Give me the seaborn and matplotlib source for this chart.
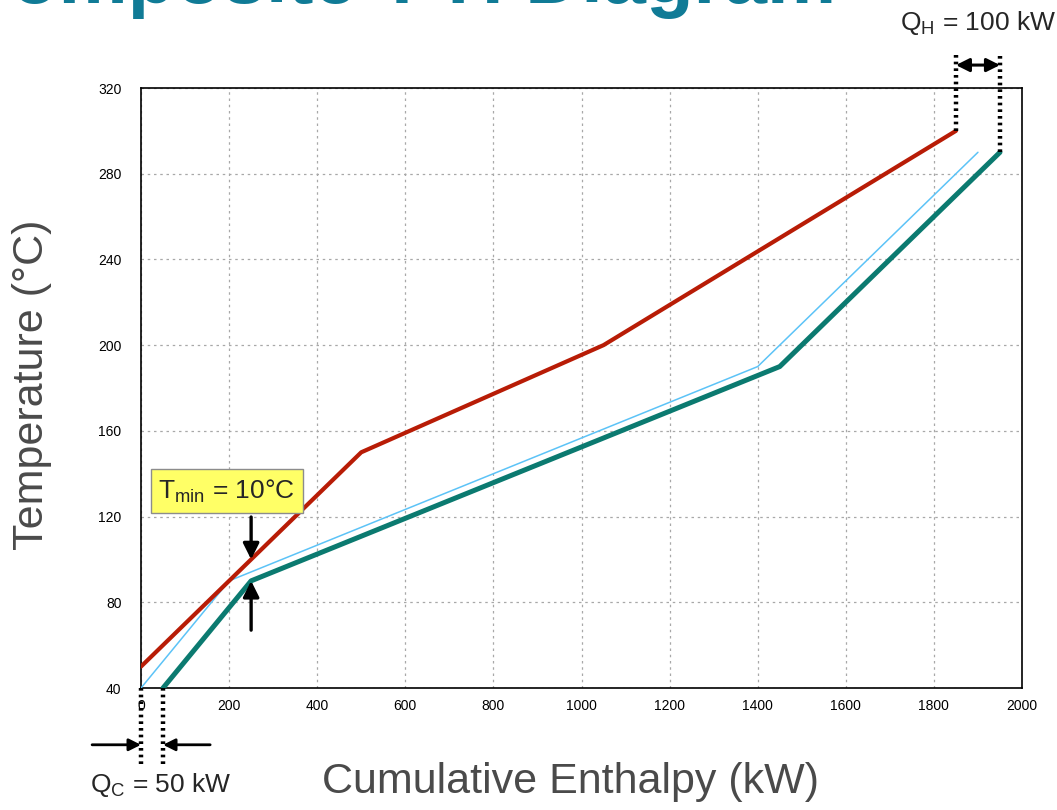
import matplotlib
matplotlib.use("Agg")
import matplotlib.pyplot as plt
import seaborn as sns
import pandas as pd

# Hot and cold composite curves (cumulative enthalpy in kW, temperature in °C)
hot_h = [0, 250, 500, 1050, 1850]
hot_t = [50, 100, 150, 200, 300]
cold_h = [50, 250, 1450, 1950]
cold_t = [40, 90, 190, 290]
shifted_h = [0, 200, 1400, 1900]
shifted_t = [40, 90, 190, 290]

x_ticks = [0, 200, 400, 600, 800, 1000, 1200, 1400, 1600, 1800, 2000]
y_ticks = [40, 80, 120, 160, 200, 240, 280, 320]

q_cold = 50     # kW, cold utility
q_hot = 100     # kW, hot utility
dt_min = 10     # °C, minimum approach
pinch_h = 250

sns.set_theme(style="white")
plt.rcParams["font.family"] = ["Liberation Sans", "DejaVu Sans"]

hot_df = pd.DataFrame({"H": hot_h, "T": hot_t})
cold_df = pd.DataFrame({"H": cold_h, "T": cold_t})
shift_df = pd.DataFrame({"H": shifted_h, "T": shifted_t})

fig = plt.figure(figsize=(10.57, 8.10), dpi=100)
ax = fig.add_axes([141 / 1057, 122 / 810, 881 / 1057, 600 / 810])

sns.lineplot(data=shift_df, x="H", y="T", ax=ax, color="#5cc3f7", lw=1.1, sort=False, zorder=3)
sns.lineplot(data=cold_df, x="H", y="T", ax=ax, color="#0b7a70", lw=3.6, sort=False, zorder=4)
sns.lineplot(data=hot_df, x="H", y="T", ax=ax, color="#b81c06", lw=3.0, sort=False, zorder=5)

ax.set_xlim(x_ticks[0], x_ticks[-1])
ax.set_ylim(y_ticks[0], y_ticks[-1])
ax.set_xticks(x_ticks)
ax.set_yticks(y_ticks)
ax.tick_params(axis="both", length=0, labelsize=10, colors="black")
ax.tick_params(axis="x", pad=8)
ax.tick_params(axis="y", pad=14)
ax.grid(True, color="#a8a8a8", linestyle=(0, (2, 3)), linewidth=0.9)
for s in ax.spines.values():
    s.set_color("black")
    s.set_linewidth(1.2)

ax.set_xlabel("Cumulative Enthalpy (kW)", fontsize=31, color="#4a4a4a", va="center")
ax.xaxis.set_label_coords(0.487, -0.157)
ax.set_ylabel("Temperature (°C)", fontsize=31, color="#4a4a4a", va="center")
ax.yaxis.set_label_coords(-0.124, 0.505)

dot = dict(color="black", lw=3.2, linestyle=(0, (0.6, 0.9)), clip_on=False, zorder=6,
           solid_capstyle="butt", dash_capstyle="butt")

# Cold utility markers below the axis
lo_t = 4
ax.plot([hot_h[0], hot_h[0]], [y_ticks[0], lo_t], **dot)
ax.plot([cold_h[0], cold_h[0]], [y_ticks[0], lo_t], **dot)
arr = dict(arrowstyle="-|>", color="black", lw=2, mutation_scale=18, shrinkA=0, shrinkB=0)
ax.annotate("", xy=(hot_h[0], 13.5), xytext=(-111, 13.5), arrowprops=arr, annotation_clip=False)
ax.annotate("", xy=(cold_h[0], 13.5), xytext=(157, 13.5), arrowprops=arr, annotation_clip=False)
ax.text(45, -5.3, f"Q$_\\mathregular{{C}}$ = {q_cold} kW",
        fontsize=19, ha="center", va="center", clip_on=False)

# Hot utility markers above the axis
hi_t = 335.5
ax.plot([hot_h[-1], hot_h[-1]], [hot_t[-1], hi_t], **dot)
ax.plot([cold_h[-1], cold_h[-1]], [cold_t[-1], hi_t], **dot)
ax.annotate("", xy=(hot_h[-1], 330.7), xytext=(cold_h[-1], 330.7),
            arrowprops=dict(arrowstyle="<|-|>", color="black", lw=2.2, mutation_scale=20,
                            shrinkA=0, shrinkB=0), annotation_clip=False)
ax.text(0.5 * (hot_h[-1] + cold_h[-1]), 350.3, f"Q$_\\mathregular{{H}}$ = {q_hot} kW",
        fontsize=19, ha="center", va="center", clip_on=False)

# Minimum approach temperature at the pinch
hot_at_pinch = hot_t[hot_h.index(pinch_h)]
cold_at_pinch = cold_t[cold_h.index(pinch_h)]
arr2 = dict(arrowstyle="-|>", color="black", lw=2.4, mutation_scale=24, shrinkA=0, shrinkB=0)
ax.annotate("", xy=(pinch_h, hot_at_pinch), xytext=(pinch_h, 119.8), arrowprops=arr2, zorder=7)
ax.annotate("", xy=(pinch_h, cold_at_pinch), xytext=(pinch_h, 67), arrowprops=arr2, zorder=7)
ax.text(195, 131.9, f"T$_\\mathregular{{min}}$ = {dt_min}°C", fontsize=19, ha="center", va="center",
        zorder=8, bbox=dict(boxstyle="square,pad=0.3", fc="#ffff66", ec="#8c8c8c", lw=1))

fig.text(-45 / 1057, 1 - 3 / 810, "Composite T-H Diagram", fontsize=56, fontweight="bold",
         color="#107b96", ha="left", va="baseline")

fig.savefig("out.png", dpi=100)
